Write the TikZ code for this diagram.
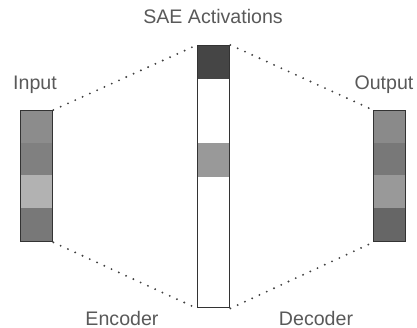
\documentclass[tikz,border=0pt]{standalone}
\usepackage{fontspec}
\setmainfont{Liberation Sans}
\begin{document}
\begin{tikzpicture}[x=1pt,y=-1pt,
  lbl/.style={text=black!65, font=\fontsize{19.6}{22}\selectfont, inner sep=0pt},
  bar/.style={draw=black!80, line width=1.4pt, minimum width=32pt, inner sep=0pt},
  seg/.style={draw=none, minimum width=32pt, minimum height=33.5pt, inner sep=0pt},
  dots/.style={draw=black!75, line width=2.1pt, line cap=round, dash pattern=on 0pt off 8pt}]
\useasboundingbox (0,0) rectangle (417,328);
% input segments
\node[seg, fill=black!45, anchor=north west] (i1) at (20,110) {};
\node[seg, fill=black!50, anchor=north west] (i2) at (20,142.5) {};
\node[seg, fill=black!30, anchor=north west] (i3) at (20,175) {};
\node[seg, fill=black!53, anchor=north west, minimum height=33.5pt] (i4) at (20,207.5) {};
\node[bar, minimum height=131pt, anchor=north west] (in) at (20,110) {};
% SAE segments
\node[seg, fill=black!73, anchor=north west] (s1) at (197,45) {};
\node[seg, fill=black!40, anchor=north west] (s2) at (197,143) {};
\node[bar, minimum height=262pt, anchor=north west] (sae) at (197,45) {};
% output segments
\node[seg, fill=black!46, anchor=north west] (o1) at (373,110) {};
\node[seg, fill=black!53, anchor=north west] (o2) at (373,142.5) {};
\node[seg, fill=black!40, anchor=north west] (o3) at (373,175) {};
\node[seg, fill=black!60, anchor=north west, minimum height=33.5pt] (o4) at (373,207.5) {};
\node[bar, minimum height=131pt, anchor=north west] (out) at (373,110) {};
% connectors
\draw[dots] (in.north east) -- (sae.north west);
\draw[dots] (in.south east) -- (sae.south west);
\draw[dots] (sae.north east) -- (out.north west);
\draw[dots] (sae.south east) -- (out.south west);
% labels
\node[lbl] (tin) at (35,85) {Input};
\node[lbl] (tsae) at (213,16) {SAE Activations};
\node[lbl] (tout) at (384,85) {Output};
\node[lbl] (tenc) at (122,318) {Encoder};
\node[lbl] (tdec) at (316,318) {Decoder};
\end{tikzpicture}
\end{document}
